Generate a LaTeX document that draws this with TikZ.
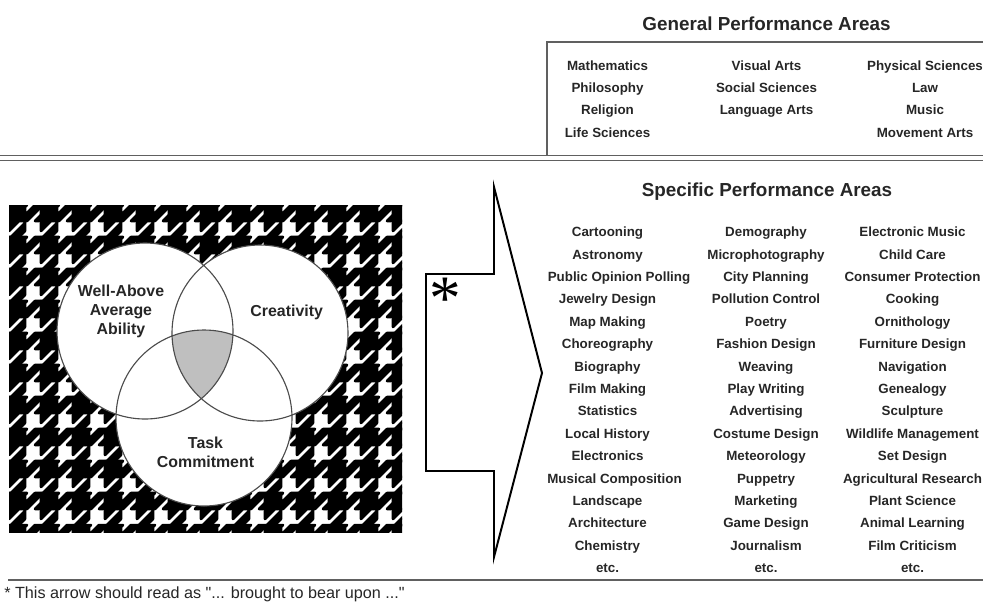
\documentclass[tikz,border=0pt]{standalone}
\usepackage{fontspec}
\setmainfont{Liberation Sans}
\newfontfamily\serifstar{Liberation Serif}
\usepackage{tikz}

\newcommand{\straightquote}{\XeTeXglyph\XeTeXcharglyph34\relax}

\tikzset{
    heading/.style={anchor=base, font=\fontsize{13.4}{16}\selectfont\bfseries, text=black!85},
    area/.style={anchor=base, font=\fontsize{9.5}{11}\selectfont\bfseries, text=black!85},
    trait/.style={align=center, font=\fontsize{11.3}{13.5}\selectfont\bfseries, text=black!85},
    rule/.style={draw=gray!75!black, line width=0.9pt},
    venn/.style={draw=gray!60!black, line width=0.8pt},
    tooth/.style={fill=black, draw=black, line width=1.8pt, line join=round},
}

\begin{document}
\begin{tikzpicture}[x=0.025cm, y=-0.025cm]
    \useasboundingbox (0,0) rectangle (983,601);

    \begin{scope}
        \clip (9,205) rectangle (402,532);
        \foreach \i in {-1,...,12} {
            \foreach \j in {-1,...,10} {
                \pgfmathsetmacro{\X}{9+32*\i}
                \pgfmathsetmacro{\Y}{205+32*\j}
                \path[tooth] (\X,\Y) rectangle (\X+16,\Y+16)
                    (\X+16,\Y) -- (\X+18,\Y) -- (\X+16,\Y+2) -- cycle
                    (\X+26,\Y) -- (\X+32,\Y) -- (\X+32,\Y+2) -- (\X+18,\Y+16) -- (\X+16,\Y+16) -- (\X+16,\Y+10) -- cycle
                    (\X+32,\Y+10) -- (\X+32,\Y+16) -- (\X+26,\Y+16) -- cycle
                    (\X+2,\Y+16) -- (\X+10,\Y+16) -- (\X,\Y+26) -- (\X,\Y+18) -- cycle
                    (\X+16,\Y+18) -- (\X+16,\Y+26) -- (\X+10,\Y+32) -- (\X+2,\Y+32) -- cycle;
            }
        }
    \end{scope}

    \coordinate (ability) at (145,331);
    \coordinate (creativity) at (260,333);
    \coordinate (task) at (204,418);
    \fill[white] (ability) circle [radius=88] (creativity) circle [radius=88] (task) circle [radius=88];
    \begin{scope}
        \clip (ability) circle [radius=88];
        \clip (creativity) circle [radius=88];
        \fill[gray!50] (task) circle [radius=88];
    \end{scope}
    \draw[venn] (ability) circle [radius=88] (creativity) circle [radius=88] (task) circle [radius=88];

    \node[trait] (ability-txt) at (121,311.5) {Well-Above\\Average\\Ability};
    \node[trait] (creativity-txt) at (286.7,312) {Creativity};
    \node[trait] (task-txt) at (205.5,452.5) {Task\\Commitment};

    \draw[line width=1.4pt, line join=miter] (426,274) -- (494,274) -- (494,187) -- (542,373) -- (494,557) -- (494,471) -- (426,471) -- cycle;
    \node (star) at (445,299) {\serifstar\fontsize{45}{45}\selectfont *};

    \draw[rule] (983,42) -- (547,42) -- (547,155.5);
    \draw[rule] (0,155.5) -- (983,155.5) (0,160.5) -- (983,160.5);
    \draw[rule] (8,580) -- (983,580);

    \node[heading] (general) at (766.5,30.5) {General Performance Areas};
    \foreach \t [count=\r from 0] in {Mathematics, Philosophy, Religion, Life Sciences}
        \node[area] (gen-a\r) at (607.5,70.5+22.2*\r) {\t};
    \foreach \t [count=\r from 0] in {Visual Arts, Social Sciences, Language Arts}
        \node[area] (gen-b\r) at (766.5,70.5+22.2*\r) {\t};
    \foreach \t [count=\r from 0] in {Physical Sciences, Law, Music, Movement Arts}
        \node[area] (gen-c\r) at (925,70.5+22.2*\r) {\t};

    \node[heading] (specific) at (767,196.5) {Specific Performance Areas};
    \foreach \x/\t [count=\r from 0] in {607.5/Cartooning, 607.5/Astronomy, 619/Public Opinion Polling,
        607.5/Jewelry Design, 607.5/Map Making, 607.5/Choreography, 607.5/Biography, 607.5/Film Making,
        607.5/Statistics, 607.5/Local History, 607.5/Electronics, 614.5/Musical Composition,
        607.5/Landscape, 607.5/Architecture, 607.5/Chemistry, 607.5/etc.}
        \node[area] (spec-a\r) at (\x,236.7+22.4*\r) {\t};
    \foreach \t [count=\r from 0] in {Demography, Microphotography, City Planning, Pollution Control,
        Poetry, Fashion Design, Weaving, Play Writing, Advertising, Costume Design, Meteorology,
        Puppetry, Marketing, Game Design, Journalism, etc.}
        \node[area] (spec-b\r) at (766,236.7+22.4*\r) {\t};
    \foreach \t [count=\r from 0] in {Electronic Music, Child Care, Consumer Protection, Cooking,
        Ornithology, Furniture Design, Navigation, Genealogy, Sculpture, Wildlife Management,
        Set Design, Agricultural Research, Plant Science, Animal Learning, Film Criticism, etc.}
        \node[area] (spec-c\r) at (912.5,236.7+22.4*\r) {\t};

    \node[anchor=base west, inner sep=0pt, font=\fontsize{11.5}{13}\selectfont, text=black!85] (note) at (4,598.5) {* This arrow should read as \straightquote... brought to bear upon ...\straightquote};
\end{tikzpicture}
\end{document}
